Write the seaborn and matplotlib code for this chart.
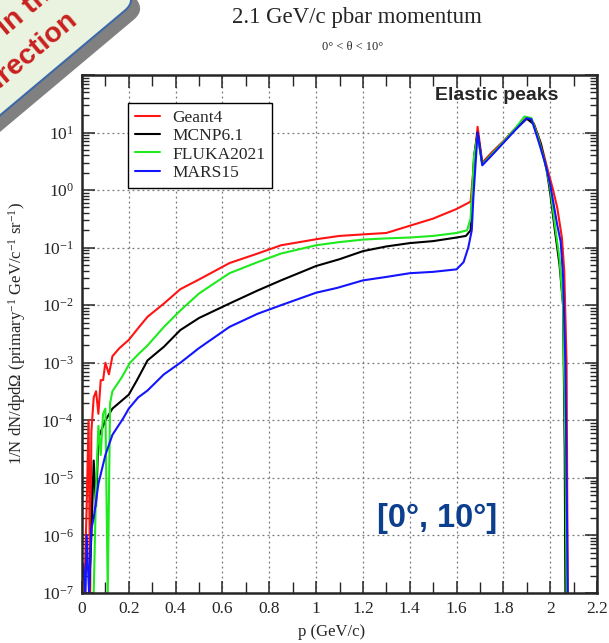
import numpy as np
import pandas as pd
import seaborn as sns
import matplotlib as mpl
import matplotlib.pyplot as plt
from matplotlib.patches import FancyBboxPatch
from matplotlib.transforms import Affine2D, IdentityTransform
from matplotlib.ticker import LogLocator, LogFormatterSciNotation, MultipleLocator, FuncFormatter, NullFormatter

#%% data (p in GeV/c, 1/N dN/dp dOmega)
codes = ["Geant4", "MCNP6.1", "FLUKA2021", "MARS15"]
colors = ["#ff1414", "#000000", "#1eea1e", "#1414ff"]

p_geant4 = [0.01, 0.02, 0.028, 0.035, 0.04, 0.05, 0.06, 0.07, 0.08, 0.09, 0.10, 0.115, 0.13, 0.16, 0.20,
            0.24, 0.28, 0.35, 0.42, 0.50, 0.63, 0.75, 0.85, 1.0, 1.1, 1.2, 1.3, 1.4, 1.5, 1.6, 1.66,
            1.675, 1.69, 1.71, 1.75, 1.80, 1.85, 1.90, 1.93, 1.96, 1.99, 2.01, 2.03, 2.05, 2.06, 2.07, 2.075]
y_geant4 = [1e-7, 3.2e-6, 1e-4, 1e-7, 6.3e-5, 2.5e-4, 3.2e-4, 1.3e-4, 5e-4, 5e-4, 1e-3, 6.3e-4, 1.3e-3, 1.8e-3, 2.5e-3,
            4e-3, 6.3e-3, 1.07e-2, 1.9e-2, 2.8e-2, 5.4e-2, 7.9e-2, 0.11, 0.14, 0.16, 0.17, 0.18, 0.24, 0.32, 0.47, 0.63,
            3.2, 12.6, 3.0, 4.5, 7.1, 11.7, 18.2, 14.5, 6.6, 2.2, 1.1, 0.5, 0.15, 0.04, 1e-3, 1e-7]

p_mcnp = [0.03, 0.04, 0.05, 0.06, 0.07, 0.08, 0.10, 0.13, 0.17, 0.20, 0.235, 0.28, 0.35, 0.42, 0.50,
          0.63, 0.75, 0.85, 1.0, 1.1, 1.2, 1.3, 1.4, 1.5, 1.6, 1.64, 1.66, 1.675, 1.69, 1.71, 1.75,
          1.80, 1.85, 1.90, 1.93, 1.96, 1.985, 2.0, 2.02, 2.04, 2.055, 2.062, 2.065]
y_mcnp = [1e-7, 1e-6, 2e-5, 3.2e-6, 5e-5, 6.3e-5, 1e-4, 1.6e-4, 2.2e-4, 2.8e-4, 5e-4, 1.1e-3, 1.9e-3, 3.7e-3, 6e-3,
          1.07e-2, 1.8e-2, 2.7e-2, 4.8e-2, 6.3e-2, 8.7e-2, 0.105, 0.12, 0.13, 0.15, 0.16, 0.2, 4.0, 10.0, 2.8, 4.2,
          6.8, 11.2, 17.4, 14.0, 6.3, 2.2, 0.9, 0.2, 0.05, 0.01, 3.2e-5, 1e-7]

p_fluka = [0.05, 0.06, 0.07, 0.08, 0.09, 0.10, 0.11, 0.12, 0.13, 0.17, 0.205, 0.24, 0.28, 0.35, 0.42,
           0.50, 0.63, 0.75, 0.85, 1.0, 1.1, 1.2, 1.3, 1.4, 1.5, 1.6, 1.645, 1.66, 1.675, 1.69, 1.71,
           1.75, 1.80, 1.85, 1.89, 1.92, 1.95, 1.98, 2.0, 2.02, 2.04, 2.055, 2.065, 2.07]
y_fluka = [1e-7, 6.3e-6, 8e-5, 2.5e-5, 1.3e-4, 1.6e-4, 1e-7, 2e-4, 3.2e-4, 5.6e-4, 1e-3, 1.4e-3, 2e-3, 4.2e-3, 8.1e-3,
           1.6e-2, 3.6e-2, 5.6e-2, 7.9e-2, 0.11, 0.125, 0.138, 0.145, 0.15, 0.16, 0.18, 0.2, 0.32, 4.0, 8.9, 2.8,
           4.2, 6.9, 11.7, 19.0, 17.8, 7.9, 2.8, 1.1, 0.25, 0.063, 0.01, 3.2e-5, 1e-7]

p_mars = [0.005, 0.015, 0.02, 0.03, 0.04, 0.05, 0.07, 0.10, 0.13, 0.177, 0.20, 0.24, 0.28, 0.35, 0.42,
          0.50, 0.63, 0.75, 0.85, 1.0, 1.09, 1.2, 1.3, 1.4, 1.5, 1.6, 1.63, 1.65, 1.665, 1.672, 1.69,
          1.71, 1.75, 1.80, 1.85, 1.90, 1.92, 1.95, 1.98, 2.0, 2.03, 2.045, 2.055, 2.065, 2.075]
y_mars = [3.2e-7, 1e-7, 1e-6, 1e-7, 1.3e-6, 2e-6, 7.9e-6, 2.5e-5, 5.6e-5, 1.1e-4, 1.6e-4, 2.5e-4, 3.3e-4, 6.3e-4, 1e-3,
          1.8e-3, 4.2e-3, 7.1e-3, 1e-2, 1.65e-2, 2e-2, 2.7e-2, 3.1e-2, 3.6e-2, 3.8e-2, 4.2e-2, 5.6e-2, 0.1, 0.2, 0.76, 10.0,
          2.7, 4.0, 6.6, 11.0, 17.8, 17.0, 7.1, 2.8, 1.26, 0.25, 0.126, 0.032, 1e-3, 1e-7]

x_ticks = [0, 0.2, 0.4, 0.6, 0.8, 1.0, 1.2, 1.4, 1.6, 1.8, 2.0, 2.2]

df = pd.concat([
    pd.DataFrame({"p": p_geant4, "flux": y_geant4, "code": codes[0]}),
    pd.DataFrame({"p": p_mcnp, "flux": y_mcnp, "code": codes[1]}),
    pd.DataFrame({"p": p_fluka, "flux": y_fluka, "code": codes[2]}),
    pd.DataFrame({"p": p_mars, "flux": y_mars, "code": codes[3]}),
], ignore_index=True)

#%%
sns.set_style("ticks")
plt.rcParams["font.family"] = ["Liberation Serif", "DejaVu Serif"]
plt.rcParams["mathtext.fontset"] = "custom"
plt.rcParams["mathtext.rm"] = "Liberation Serif"
plt.rcParams["mathtext.it"] = "Liberation Serif:italic"
plt.rcParams["mathtext.default"] = "regular"

W, H = 609, 643
fig = plt.figure(figsize=(W / 100, H / 100), dpi=100)
ax = fig.add_axes([82 / W, 1 - 593 / H, 515 / W, 518 / H])

sns.lineplot(data=df, x="p", y="flux", hue="code", palette=dict(zip(codes, colors)),
             estimator=None, sort=False, lw=1.5, ax=ax)
ax.set_yscale("log")
ax.set_xlim(0, 2.2)
ax.set_ylim(1e-7, 1e2)

sci = LogFormatterSciNotation()
ax.xaxis.set_major_locator(mpl.ticker.FixedLocator(x_ticks))
ax.xaxis.set_minor_locator(MultipleLocator(0.1))
ax.xaxis.set_major_formatter(FuncFormatter(lambda v, pos: f"{v:g}"))
ax.yaxis.set_major_locator(LogLocator(base=10, numticks=20))
ax.yaxis.set_minor_locator(LogLocator(base=10, subs=np.arange(2, 10), numticks=20))
ax.yaxis.set_major_formatter(FuncFormatter(lambda v, pos: "" if v > 50 else sci(v, pos)))
ax.yaxis.set_minor_formatter(NullFormatter())

ax.tick_params(which="both", direction="in", top=True, right=True, labelsize=12.5, pad=6)
ax.tick_params(which="major", length=9, width=1.1)
ax.tick_params(which="minor", length=5, width=1.0)
ax.tick_params(axis="x", which="minor", length=8)
for sp in ax.spines.values():
    sp.set_linewidth(1.8)
ax.grid(True, which="major", ls=(0, (1.5, 2.5)), color="#777777", lw=0.9)
ax.set_axisbelow(True)

ax.set_xlabel("p (GeV/c)", fontsize=12)
ax.set_ylabel(r"1/N dN/dpd$\Omega$ (primary$^{-1}$ GeV/c$^{-1}$ sr$^{-1}$)", fontsize=12)
ax.xaxis.set_label_coords(0.485, -0.06)
ax.yaxis.set_label_coords(-0.105, 0.5)

handles, labels = ax.get_legend_handles_labels()
leg = ax.legend(handles, labels, loc="upper left", bbox_to_anchor=((128 - 82) / 515, 1 - (103 - 75) / 518),
                borderaxespad=0, fancybox=False, edgecolor="black", framealpha=1, fontsize=12.5,
                handlelength=1.45, handletextpad=0.7, labelspacing=0.12, borderpad=0.4)
leg.get_frame().set_linewidth(1.0)

ax.text((497 - 82) / 515, 1 - (95 - 75) / 518, "Elastic peaks", transform=ax.transAxes, ha="center", va="center",
        fontsize=14, fontweight="bold", family="Liberation Sans")
ax.text((437 - 82) / 515, 1 - (518 - 75) / 518, "[0°, 10°]", transform=ax.transAxes, ha="center", va="center",
        fontsize=23.5, fontweight="bold", family="Liberation Sans", color="#0d3f8f")

fig.text(357 / W, 1 - 18 / H, "2.1 GeV/c pbar momentum", ha="center", va="center", fontsize=16.5)
fig.text(353 / W, 1 - 47 / H, "0° < θ < 10°", ha="center", va="center", fontsize=9)

#%% rotated note box in the top-left corner (partly outside the figure, as in the source slide)
ang = 40
ox, oy = 10, H - 107
cs, sn = np.cos(np.radians(ang)), np.sin(np.radians(ang))
box_kw = dict(boxstyle="round,pad=0,rounding_size=15")
shadow = FancyBboxPatch((-200, 0), 365, 150, fc="#808080", ec="none",
                        transform=Affine2D().rotate_deg(ang).translate(ox + 9, oy - 9), **box_kw)
face = FancyBboxPatch((-200, 0), 365, 150, fc="#eaf3e0", ec="#3d68aa", lw=1.5,
                      transform=Affine2D().rotate_deg(ang).translate(ox, oy), **box_kw)
fig.add_artist(shadow)
fig.add_artist(face)


def to_disp(u, v):
    return ox + u * cs - v * sn, oy + u * sn + v * cs


for u, v, s, ha in [(42, 57, "in the", "left"), (108, 21, "direction", "right")]:
    x, y = to_disp(u, v)
    fig.text(x, y, s, transform=IdentityTransform(), rotation=ang, rotation_mode="anchor", ha=ha, va="baseline",
             fontsize=20.5, fontweight="bold", family="Liberation Sans", color="#c8201f")

fig.savefig("out.png", dpi=100)
